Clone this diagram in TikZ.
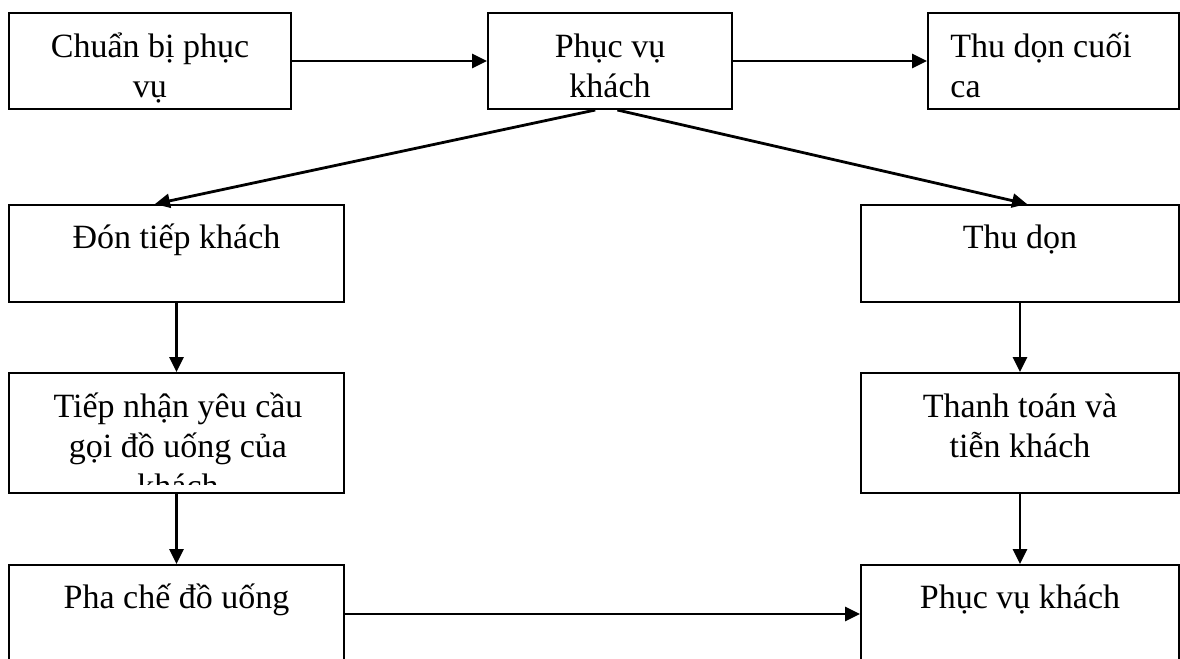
\documentclass[tikz,border=0pt]{standalone}
\usepackage{fontspec}
\setmainfont{Liberation Serif}
\usetikzlibrary{arrows.meta,fit,calc}
\begin{document}
\begin{tikzpicture}[x=0.5pt,y=-0.5pt,
  box/.style={draw, line width=1pt, inner sep=0pt},
  txt/.style={font=\fontsize{17}{20}\selectfont, inner sep=0pt, anchor=base},
  arr/.style={line width=1.4pt, -{Triangle[length=7.5pt,width=7pt]}}]
\useasboundingbox (0,0) rectangle (1180,659);
\clip (0,0) rectangle (1180,659);
\fill[white] (0,0) rectangle (1180,659);

% boxes
\node[box, fit={(9,13) (291,109)}] (b1) {};
\node[box, fit={(488,13) (732,109)}] (b2) {};
\node[box, fit={(928,13) (1179,109)}] (b3) {};
\node[box, fit={(9,205) (344,302)}] (b4) {};
\node[box, fit={(861,205) (1179,302)}] (b5) {};
\node[box, fit={(9,373) (344,493)}] (b6) {};
\node[box, fit={(861,373) (1179,493)}] (b7) {};
\node[box, fit={(9,565) (344,663)}] (b8) {};
\node[box, fit={(861,565) (1179,663)}] (b9) {};

% texts
\node[txt] (t1a) at (150,57) {Chuẩn bị phục};
\node[txt] (t1b) at (150,97) {vụ};
\node[txt] (t2a) at (610,57) {Phục vụ};
\node[txt] (t2b) at (610,97) {khách};
\node[txt, anchor=base west] (t3a) at (950,57) {Thu dọn cuối};
\node[txt, anchor=base west] (t3b) at (950,97) {ca};
\node[txt] (t4) at (176.5,248) {Đón tiếp khách};
\node[txt] (t5) at (1020,248) {Thu dọn};
\node[txt] (t6a) at (178,417) {Tiếp nhận yêu cầu};
\node[txt] (t6b) at (178,457) {gọi đồ uống của};
\begin{scope}
  \clip (9,373) rectangle (344,484);
  \node[txt] (t6c) at (178,497) {khách};
\end{scope}
\node[txt] (t7a) at (1020,417) {Thanh toán và};
\node[txt] (t7b) at (1020,457) {tiễn khách};
\node[txt] (t8) at (176.5,608) {Pha chế đồ uống};
\node[txt] (t9) at (1020,608) {Phục vụ khách};

% connectors
\draw[arr] (b1.east) -- (b2.west);
\draw[arr] (b2.east) -- (b3.west);
\draw[arr] ($(b2.south west)!0.44!(b2.south east)$) -- ($(b4.north west)!0.436!(b4.north east)$);
\draw[arr] ($(b2.south west)!0.53!(b2.south east)$) -- ($(b5.north west)!0.522!(b5.north east)$);
\draw[arr] (b4.south) -- (b6.north);
\draw[arr] (b6.south) -- (b8.north);
\draw[arr] (b5.south) -- (b7.north);
\draw[arr] (b7.south) -- (b9.north);
\draw[arr] (b8.east) -- (b9.west);
\end{tikzpicture}
\end{document}
